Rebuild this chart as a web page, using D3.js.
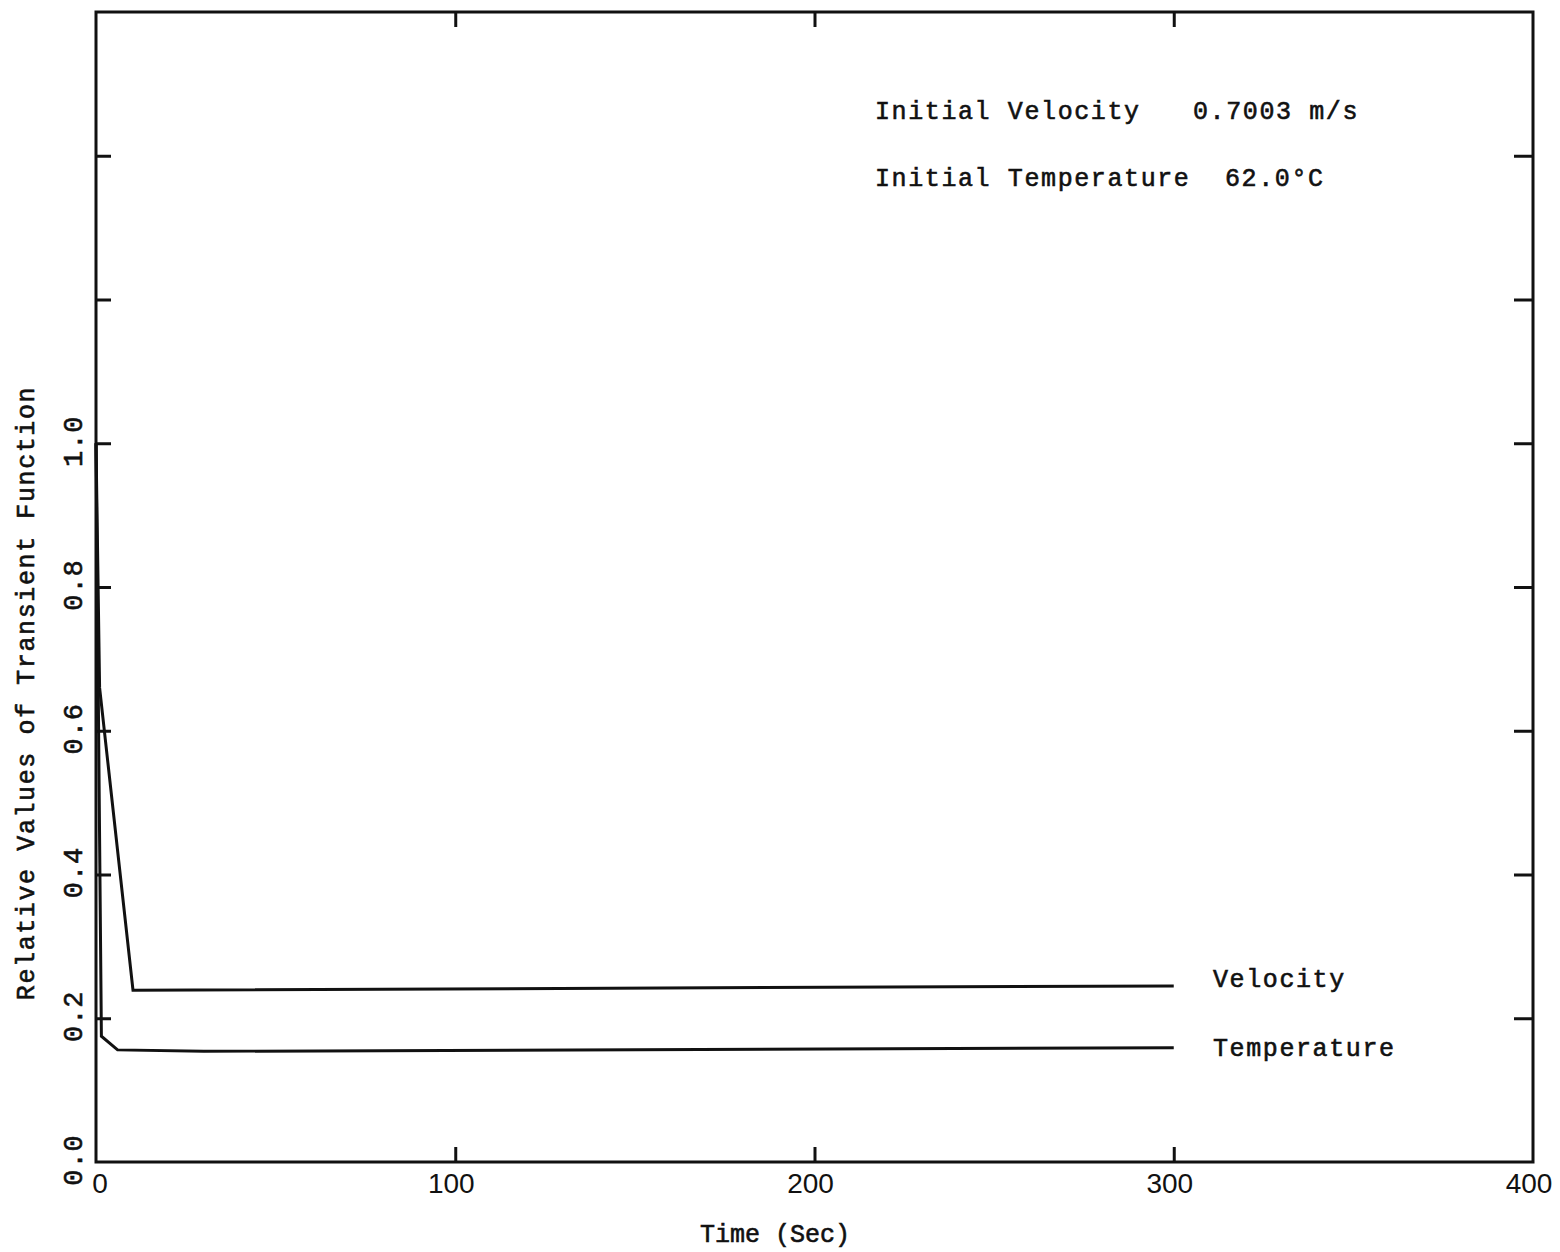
<!DOCTYPE html>
<html>
<head>
<meta charset="utf-8">
<script src="https://cdn.jsdelivr.net/npm/d3@7"></script>
<style>
  html, body { margin: 0; padding: 0; background: #fff; }
  svg text { fill: #111; }
  svg text.type { stroke: #111; stroke-width: 0.6px; }
</style>
</head>
<body>
<svg id="chart" width="1560" height="1252"></svg>
<script>
// Transient response after a step change: relative velocity and temperature
const velocityTime   = [0, 1, 10.3, 300];
const velocityValue  = [1.0, 0.66, 0.239, 0.245];
const temperatureTime  = [0, 1.5, 6, 30, 300];
const temperatureValue = [1.0, 0.175, 0.156, 0.154, 0.159];

const xTicks = [0, 100, 200, 300, 400];
const yTicks = [0.0, 0.2, 0.4, 0.6, 0.8, 1.0, 1.2, 1.4];
const yTickLabels = ["0.0", "0.2", "0.4", "0.6", "0.8", "1.0"];

const seriesNames = ["Velocity", "Temperature"];
const noteLines = [
  ["Initial Velocity", "0.7003 m/s"],
  ["Initial Temperature", "62.0°C"]
];

const svg = d3.select("#chart");
const box = { left: 96, right: 1533, top: 12, bottom: 1162 };

const x = d3.scaleLinear().domain([0, 400]).range([box.left, box.right]);
const y = d3.scaleLinear().domain([0, 1.6]).range([box.bottom, box.top]);

const mono = "'Liberation Mono', 'Courier New', monospace";
const sans = "'Liberation Sans', Arial, sans-serif";
const ink = "#111";

// frame
svg.append("rect")
  .attr("x", box.left).attr("y", box.top)
  .attr("width", box.right - box.left).attr("height", box.bottom - box.top)
  .attr("fill", "none").attr("stroke", ink).attr("stroke-width", 3);

const tickLen = 15;
const inner = [100, 200, 300];
const innerY = yTicks.filter(v => v > 0);

// bottom and top ticks, pointing into the plot
const axBottom = d3.axisTop(x).tickValues(inner).tickSize(tickLen).tickFormat("");
svg.append("g").attr("transform", `translate(0,${box.bottom})`).call(axBottom)
  .call(g => g.select(".domain").remove());
const axTop = d3.axisBottom(x).tickValues(inner).tickSize(tickLen).tickFormat("");
svg.append("g").attr("transform", `translate(0,${box.top})`).call(axTop)
  .call(g => g.select(".domain").remove());

// left and right ticks, pointing into the plot
const axLeft = d3.axisRight(y).tickValues(innerY).tickSize(tickLen).tickFormat("");
svg.append("g").attr("transform", `translate(${box.left},0)`).call(axLeft)
  .call(g => g.select(".domain").remove());
const axRight = d3.axisLeft(y).tickValues(innerY).tickSize(tickLen + 4).tickFormat("");
svg.append("g").attr("transform", `translate(${box.right},0)`).call(axRight)
  .call(g => g.select(".domain").remove());

svg.selectAll(".tick line").attr("stroke", ink).attr("stroke-width", 3);

// x tick labels
svg.append("g").selectAll("text").data(xTicks).join("text")
  .attr("x", d => x(d) + (d === 0 ? 4 : -4))
  .attr("y", 1193)
  .attr("text-anchor", "middle")
  .style("font-family", sans).style("font-size", "28px")
  .text(d => d);

// y tick labels, rotated
svg.append("g").selectAll("text").data(yTickLabels).join("text")
  .attr("class", "type")
  .attr("transform", d => `translate(82,${y(+d) - 2}) rotate(-90)`)
  .attr("text-anchor", "middle")
  .style("font-family", mono).style("font-size", "27px")
  .style("letter-spacing", "1px")
  .text(d => d);

// axis titles
svg.append("text")
  .attr("class", "type")
  .attr("x", 775).attr("y", 1242)
  .attr("text-anchor", "middle")
  .style("font-family", mono).style("font-size", "25px")
  .text("Time (Sec)");

svg.append("text")
  .attr("class", "type")
  .attr("transform", "translate(34,693) rotate(-90)")
  .attr("text-anchor", "middle")
  .style("font-family", mono).style("font-size", "25px")
  .style("letter-spacing", "1.6px")
  .text("Relative Values of Transient Function");

// curves
const line = d3.line().x(d => x(d[0])).y(d => y(d[1]));
const series = [
  d3.zip(velocityTime, velocityValue),
  d3.zip(temperatureTime, temperatureValue)
];
svg.append("g").selectAll("path").data(series).join("path")
  .attr("d", line)
  .attr("fill", "none").attr("stroke", ink)
  .attr("stroke-width", 3).attr("stroke-linejoin", "miter");

// curve labels placed at the end of each line
const lastValues = [velocityValue[velocityValue.length - 1], temperatureValue[temperatureValue.length - 1]];
const labelShift = [1, 8];
svg.append("g").selectAll("text").data(seriesNames).join("text")
  .attr("class", "type")
  .attr("x", 1213)
  .attr("y", (d, i) => y(lastValues[i]) + labelShift[i])
  .style("font-family", mono).style("font-size", "25px")
  .style("letter-spacing", "1.6px")
  .text(d => d);

// notes in the upper right
const notes = svg.append("g");
noteLines.forEach((pair, i) => {
  const baseY = 119 + i * 67;
  notes.append("text").attr("class", "type").attr("x", 875).attr("y", baseY)
    .style("font-family", mono).style("font-size", "25px")
    .style("letter-spacing", "1.6px").text(pair[0]);
  notes.append("text").attr("class", "type").attr("x", i === 0 ? 1193 : 1225).attr("y", baseY)
    .style("font-family", mono).style("font-size", "25px")
    .style("letter-spacing", "1.6px").text(pair[1]);
});
</script>
</body>
</html>
